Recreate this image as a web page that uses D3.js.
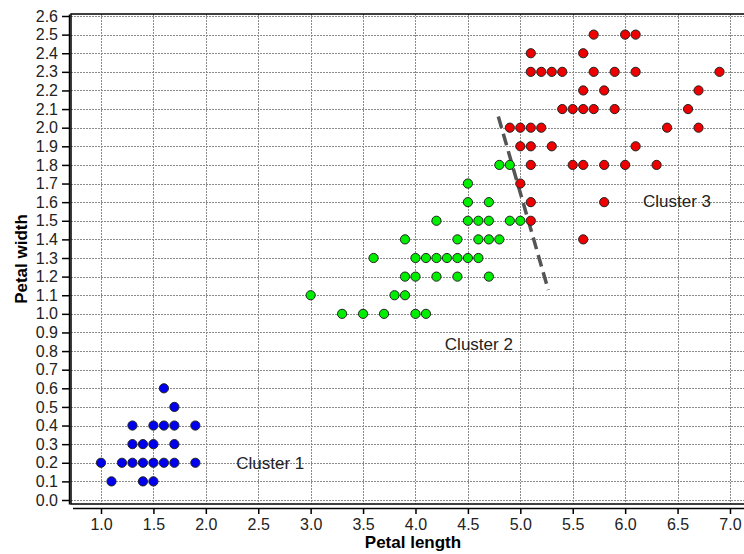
<!DOCTYPE html>
<html>
<head>
<meta charset="utf-8">
<script src="https://cdn.jsdelivr.net/npm/d3@7"></script>
<style>
  html, body { margin: 0; padding: 0; background: #fff; }
  svg { display: block; }
  text { font-family: "Liberation Sans", Arial, sans-serif; }
</style>
</head>
<body>
<svg id="chart" width="744" height="554"></svg>
<script>
// ---- Data (petal length, petal width) ----
const cluster1Length = [1.6, 1.7, 1.3, 1.5, 1.6, 1.7, 1.9, 1.3, 1.4, 1.5, 1.7, 1.0, 1.2, 1.3, 1.4, 1.5, 1.6, 1.7, 1.9, 1.1, 1.4, 1.5];
const cluster1Width  = [0.6, 0.5, 0.4, 0.4, 0.4, 0.4, 0.4, 0.3, 0.3, 0.3, 0.3, 0.2, 0.2, 0.2, 0.2, 0.2, 0.2, 0.2, 0.2, 0.1, 0.1, 0.1];

const cluster2Length = [3.3, 3.5, 3.7, 4.0, 4.1,
                        3.0, 3.8, 3.9,
                        3.9, 4.0, 4.2, 4.4, 4.7,
                        3.6, 4.0, 4.1, 4.2, 4.3, 4.4, 4.5, 4.6,
                        3.9, 4.4, 4.6, 4.7, 4.8,
                        4.2, 4.5, 4.6, 4.7, 4.9, 5.0,
                        4.5, 4.7,
                        4.5,
                        4.8, 4.9];
const cluster2Width  = [1.0, 1.0, 1.0, 1.0, 1.0,
                        1.1, 1.1, 1.1,
                        1.2, 1.2, 1.2, 1.2, 1.2,
                        1.3, 1.3, 1.3, 1.3, 1.3, 1.3, 1.3, 1.3,
                        1.4, 1.4, 1.4, 1.4, 1.4,
                        1.5, 1.5, 1.5, 1.5, 1.5, 1.5,
                        1.6, 1.6,
                        1.7,
                        1.8, 1.8];

const cluster3Length = [5.7, 6.0, 6.1,
                        5.1, 5.6,
                        5.1, 5.2, 5.3, 5.4, 5.7, 5.9, 6.1, 6.9,
                        5.6, 5.8, 6.7,
                        5.4, 5.5, 5.6, 5.7, 5.9, 6.6,
                        4.9, 5.0, 5.1, 5.2, 6.4, 6.7,
                        5.0, 5.1, 5.3, 6.1,
                        5.1, 5.5, 5.6, 5.8, 6.0, 6.3,
                        5.0,
                        5.1, 5.8,
                        5.1,
                        5.6];
const cluster3Width  = [2.5, 2.5, 2.5,
                        2.4, 2.4,
                        2.3, 2.3, 2.3, 2.3, 2.3, 2.3, 2.3, 2.3,
                        2.2, 2.2, 2.2,
                        2.1, 2.1, 2.1, 2.1, 2.1, 2.1,
                        2.0, 2.0, 2.0, 2.0, 2.0, 2.0,
                        1.9, 1.9, 1.9, 1.9,
                        1.8, 1.8, 1.8, 1.8, 1.8, 1.8,
                        1.7,
                        1.6, 1.6,
                        1.5,
                        1.4];

const clusterColors = ["#0000ee", "#00ee00", "#ee0000"];
const clusterLabels = ["Cluster 1", "Cluster 2", "Cluster 3"];
const labelLength = [2.29, 4.28, 6.17];
const labelWidth  = [0.165, 0.805, 1.575];

const boundaryLength = [4.79, 5.267];
const boundaryWidth  = [2.06, 1.128];

const xTicks = [1.0, 1.5, 2.0, 2.5, 3.0, 3.5, 4.0, 4.5, 5.0, 5.5, 6.0, 6.5, 7.0];
const yTicks = d3.range(0, 27).map(i => i / 10);

const xTitle = "Petal length";
const yTitle = "Petal width";

// ---- Layout ----
const svg = d3.select("#chart");
const frame = { left: 71, right: 745, top: 14, bottom: 504 };

const xPerUnit = 104.83;
const x = d3.scaleLinear()
  .domain([1 - (101 - frame.left) / xPerUnit, 1 + (frame.right - 101) / xPerUnit])
  .range([frame.left, frame.right]);

const yPerUnit = 186.15;
const y = d3.scaleLinear()
  .domain([-(frame.bottom - 500) / yPerUnit, 2.6 + (16 - frame.top) / yPerUnit])
  .range([frame.bottom, frame.top]);

// Grid
const grid = svg.append("g").attr("class", "grid");
grid.selectAll("line.h").data(yTicks).join("line")
  .attr("x1", frame.left).attr("x2", frame.right)
  .attr("y1", d => Math.round(y(d)) + 0.5).attr("y2", d => Math.round(y(d)) + 0.5)
  .attr("stroke", "#8a8a8a").attr("stroke-width", 1).attr("stroke-dasharray", "2,1");
grid.selectAll("line.v").data(xTicks).join("line")
  .attr("y1", frame.top).attr("y2", frame.bottom)
  .attr("x1", d => Math.round(x(d)) + 0.5).attr("x2", d => Math.round(x(d)) + 0.5)
  .attr("stroke", "#8a8a8a").attr("stroke-width", 1).attr("stroke-dasharray", "2,1");

// Frame
svg.append("rect")
  .attr("x", frame.left).attr("y", frame.top)
  .attr("width", frame.right - frame.left).attr("height", frame.bottom - frame.top)
  .attr("fill", "none").attr("stroke", "#000").attr("stroke-width", 1.5);

// Axes
const yAxis = svg.append("g")
  .attr("transform", `translate(${frame.left - 2},0)`)
  .call(d3.axisLeft(y).tickValues(yTicks).tickFormat(d3.format(".1f")).tickSize(7).tickSizeOuter(0).tickPadding(4));
const xAxis = svg.append("g")
  .attr("transform", `translate(0,${frame.bottom + 4})`)
  .call(d3.axisBottom(x).tickValues(xTicks).tickFormat(d3.format(".1f")).tickSize(6).tickSizeOuter(0).tickPadding(5));
[xAxis, yAxis].forEach(a => {
  a.select(".domain").attr("stroke", "#000").attr("stroke-width", 1.5);
  a.selectAll(".tick line").attr("stroke", "#000").attr("stroke-width", 1.5);
  a.selectAll(".tick text").attr("fill", "#222").style("font-size", "16px")
    .style("font-family", "'Liberation Sans', Arial, sans-serif");
});
xAxis.select(".domain").attr("d", `M${frame.left + 2},0.5H${frame.right}`);

// Axis titles
svg.append("text")
  .attr("x", 413).attr("y", 548)
  .attr("text-anchor", "middle")
  .style("font-size", "17px").style("font-weight", "bold").attr("fill", "#000")
  .text(xTitle);
svg.append("text")
  .attr("transform", `translate(27,${(frame.top + frame.bottom) / 2}) rotate(-90)`)
  .attr("text-anchor", "middle")
  .style("font-size", "17px").style("font-weight", "bold").attr("fill", "#000")
  .text(yTitle);

// Boundary line
svg.append("line")
  .attr("x1", x(boundaryLength[0])).attr("y1", y(boundaryWidth[0]))
  .attr("x2", x(boundaryLength[1])).attr("y2", y(boundaryWidth[1]))
  .attr("stroke", "#555").attr("stroke-width", 3.5).attr("stroke-dasharray", "12,6");

// Points
const clusters = [
  [cluster1Length, cluster1Width],
  [cluster2Length, cluster2Width],
  [cluster3Length, cluster3Width]
];
clusters.forEach(([lens, wids], i) => {
  svg.append("g").selectAll("circle")
    .data(lens.map((l, j) => [l, wids[j]]))
    .join("circle")
    .attr("cx", d => x(d[0])).attr("cy", d => y(d[1]))
    .attr("r", 4.6)
    .attr("fill", clusterColors[i])
    .attr("stroke", "#222").attr("stroke-width", 1);
});

// Cluster labels
svg.append("g").selectAll("text")
  .data(clusterLabels)
  .join("text")
  .attr("x", (d, i) => x(labelLength[i]))
  .attr("y", (d, i) => y(labelWidth[i]))
  .style("font-size", "17px").attr("fill", "#222")
  .text(d => d);
</script>
</body>
</html>
